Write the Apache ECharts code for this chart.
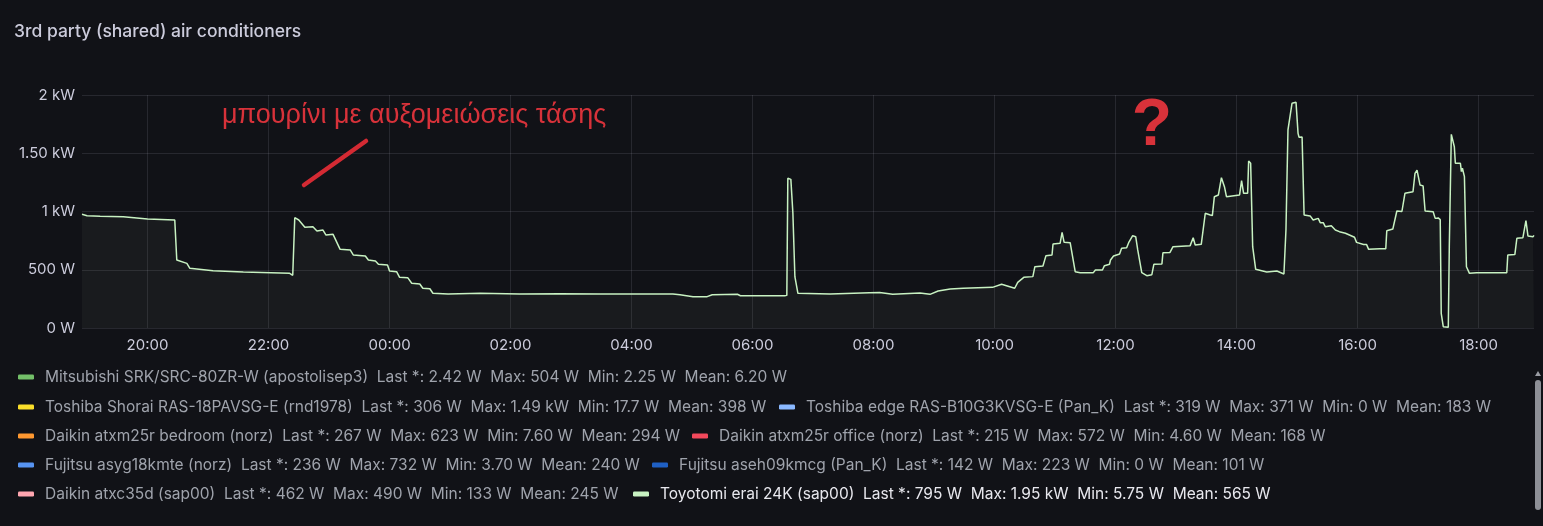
<!DOCTYPE html>
<html>
<head>
<meta charset="utf-8">
<script src="https://cdn.jsdelivr.net/npm/echarts@6/dist/echarts.min.js"></script>
<style>
  html, body { margin:0; padding:0; background:#111217; }
  #chart { width:1543px; height:526px; }
</style>
</head>
<body>
<div id="chart"></div>
<script>
// ---- data ----
const chartTitle = '3rd party (shared) air conditioners';
const timeLabels = ['18:55','19:00','19:13','19:36','20:00','20:27','20:29','20:39','20:42','21:05','21:35','22:21','22:24','22:26','22:30','22:36','22:44','22:48','22:54','22:57','23:04','23:11','23:21','23:24','23:36','23:39','23:46','23:49','23:58','00:00','00:07','00:10','00:18','00:22','00:30','00:33','00:40','00:43','00:58','01:30','02:09','02:49','03:29','04:41','04:48','05:01','05:15','05:20','05:45','05:48','06:32','06:34','06:35','06:38','06:40','06:42','06:45','07:17','07:56','08:06','08:19','08:46','08:56','09:04','09:16','09:29','09:58','10:07','10:20','10:23','10:29','10:38','10:40','10:48','10:51','10:57','10:58','11:05','11:07','11:09','11:15','11:20','11:25','11:38','11:40','11:47','11:49','11:54','11:55','11:58','12:04','12:06','12:11','12:13','12:17','12:20','12:22','12:26','12:31','12:36','12:38','12:46','12:47','12:54','12:57','13:14','13:17','13:19','13:25','13:29','13:34','13:36','13:38','13:42','13:45','13:48','13:50','14:03','14:05','14:07','14:11','14:12','14:14','14:16','14:19','14:30','14:40','14:47','14:49','14:51','14:55','14:59','15:01','15:02','15:05','15:07','15:13','15:16','15:21','15:23','15:26','15:28','15:34','15:38','15:42','15:48','15:57','15:59','16:06','16:09','16:11','16:22','16:28','16:29','16:35','16:39','16:44','16:47','16:55','16:57','16:59','17:02','17:05','17:07','17:15','17:17','17:20','17:22','17:23','17:25','17:30','17:31','17:33','17:36','17:37','17:42','17:43','17:44','17:46','17:48','17:51','17:58','18:28','18:29','18:36','18:38','18:44','18:47','18:49','18:54','18:55'];
const toyotomiWatts = [976,964,960,955,936,927,584,555,512,492,481,469,452,947,927,864,870,833,841,798,804,675,670,627,618,584,575,547,541,489,483,435,432,384,378,341,337,298,292,298,292,295,292,292,285,269,269,285,290,277,277,280,1285,1276,987,440,298,292,303,305,289,300,289,318,335,341,349,375,341,392,435,441,526,532,621,627,721,727,821,735,732,483,475,475,498,498,535,547,584,618,635,684,689,732,792,784,670,475,449,458,547,550,646,649,698,707,775,712,718,985,970,965,1127,1142,1290,1213,1127,1142,1265,1156,1156,1433,1414,698,504,481,489,464,841,1700,1929,1937,1671,1637,1640,970,962,927,941,904,904,870,878,841,827,813,779,735,716,716,675,681,681,835,850,1004,1000,1156,1170,1328,1356,1227,1220,1004,998,941,945,930,126,11,6,698,1662,1556,1414,1414,1342,1371,1299,526,469,475,475,627,630,770,775,921,790,784,795];
const rangeStart = '18:55';
const rangeEnd = '18:55';
const xTickLabels = ['20:00','22:00','00:00','02:00','04:00','06:00','08:00','10:00','12:00','14:00','16:00','18:00'];
const yTickLabels = ['0 W','500 W','1 kW','1.50 kW','2 kW'];
const deviceNames = [
  'Mitsubishi SRK/SRC-80ZR-W (apostolisep3)',
  'Toshiba Shorai RAS-18PAVSG-E (rnd1978)',
  'Toshiba edge RAS-B10G3KVSG-E (Pan_K)',
  'Daikin atxm25r bedroom (norz)',
  'Daikin atxm25r office (norz)',
  'Fujitsu asyg18kmte (norz)',
  'Fujitsu aseh09kmcg (Pan_K)',
  'Daikin atxc35d (sap00)',
  'Toyotomi erai 24K (sap00)'
];
const deviceColors = ['#73BF69','#FADE2A','#8AB8FF','#FF9830','#F2495C','#5794F2','#1F60C4','#FFA6B0','#C8F2C2'];
const deviceStats = [
  'Last *: 2.42 W  Max: 504 W  Min: 2.25 W  Mean: 6.20 W',
  'Last *: 306 W  Max: 1.49 kW  Min: 17.7 W  Mean: 398 W',
  'Last *: 319 W  Max: 371 W  Min: 0 W  Mean: 183 W',
  'Last *: 267 W  Max: 623 W  Min: 7.60 W  Mean: 294 W',
  'Last *: 215 W  Max: 572 W  Min: 4.60 W  Mean: 168 W',
  'Last *: 236 W  Max: 732 W  Min: 3.70 W  Mean: 240 W',
  'Last *: 142 W  Max: 223 W  Min: 0 W  Mean: 101 W',
  'Last *: 462 W  Max: 490 W  Min: 133 W  Mean: 245 W',
  'Last *: 795 W  Max: 1.95 kW  Min: 5.75 W  Mean: 565 W'
];
const shownDevice = 'Toyotomi erai 24K (sap00)';
const annotationText = 'μπουρίνι με αυξομειώσεις τάσης';
const annotationMark = '?';

// ---- build minute offsets (minutes since day-1 midnight) ----
function toMin(label, day) {
  const [h, m] = label.split(':').map(Number);
  return day * 1440 + h * 60 + m;
}
function withDays(labels) {
  const out = [];
  let day = 0, prev = null;
  labels.forEach(lab => {
    if (prev !== null && lab < prev) day += 1;
    prev = lab;
    out.push(toMin(lab, day));
  });
  return out;
}
const tList = withDays(timeLabels);
const points = tList.map((t, i) => [t, toyotomiWatts[i]]);
const xTicks = withDays(xTickLabels);
const xMin = toMin(rangeStart, 0);
const xMax = toMin(rangeEnd, 1);

// ---- layout (positions only) ----
const legendSlots = [
  [18, 368], [18, 398], [779, 398], [18, 427], [692, 427], [18, 456], [652, 456], [18, 485], [633, 485]
];
const FONT = 'Inter, "Noto Sans", sans-serif';

const legends = deviceNames.map((name, i) => ({
  left: legendSlots[i][0],
  top: legendSlots[i][1],
  padding: 0,
  icon: 'roundRect',
  itemWidth: 16,
  itemHeight: 5,
  selectedMode: false,
  data: [{ name: name, textStyle: { color: name === shownDevice ? '#e8e8ee' : '#9fa3ac' } }],
  formatter: n => n + '  ' + deviceStats[deviceNames.indexOf(n)],
  textStyle: { fontFamily: FONT, fontSize: 15.5, lineHeight: 18, padding: [0, 0, 0, 6] }
}));

const series = deviceNames.map((name, i) => {
  if (name === shownDevice) {
    return {
      name: name, type: 'line', color: deviceColors[i],
      data: points, showSymbol: false, symbol: 'none',
      lineStyle: { color: deviceColors[i], width: 1.5 },
      areaStyle: { color: 'rgba(200,242,194,0.06)' },
      animation: false, z: 5
    };
  }
  return { name: name, type: 'line', color: deviceColors[i], data: [], showSymbol: false, animation: false };
});

const chart = echarts.init(document.getElementById('chart'), null, { renderer: 'canvas' });
chart.setOption({
  backgroundColor: '#111217',
  animation: false,
  title: {
    text: chartTitle, left: 14, top: 23, padding: 0,
    textStyle: { color: '#ccccdc', fontSize: 17.5, fontWeight: 500, fontFamily: FONT }
  },
  grid: { left: 82, right: 9, top: 95, bottom: 198, containLabel: false },
  legend: legends,
  xAxis: {
    type: 'value', min: xMin, max: xMax,
    axisLine: { show: false },
    axisTick: { show: false, customValues: xTicks },
    splitLine: { show: true, lineStyle: { color: 'rgba(204,204,220,0.12)', width: 1 } },
    axisLabel: {
      customValues: xTicks,
      formatter: v => { const k = xTicks.indexOf(v); return k >= 0 ? xTickLabels[k] : ''; },
      color: '#ccccdc', fontSize: 15, fontFamily: FONT, margin: 10, hideOverlap: false
    }
  },
  yAxis: {
    type: 'value', min: 0, max: 2000, interval: 500,
    axisLine: { show: false }, axisTick: { show: false },
    splitLine: { show: true, lineStyle: { color: 'rgba(204,204,220,0.12)', width: 1 } },
    axisLabel: {
      formatter: v => yTickLabels[Math.round(v / 500)], color: '#ccccdc', fontSize: 15, fontFamily: FONT, margin: 7
    }
  },
  series: series,
  graphic: [
    { type: 'text', x: 222, y: 116, z: 20,
      style: { text: annotationText, fill: '#d8323a', fontSize: 27, verticalAlign: 'middle', fontFamily: '"Liberation Sans", Arial, sans-serif' } },
    { type: 'line', z: 20,
      shape: { x1: 304, y1: 185, x2: 366, y2: 141 },
      style: { stroke: '#d42a33', lineWidth: 4.5, lineCap: 'round' } },
    { type: 'text', x: 1152, y: 127, z: 20,
      style: { text: annotationMark, fill: '#d8323a', fontSize: 66, fontWeight: 'bold', align: 'center', verticalAlign: 'middle', fontFamily: '"Liberation Sans", Arial, sans-serif' } },
    { type: 'polygon', z: 20, shape: { points: [[1535, 376], [1541, 376], [1538, 371]] }, style: { fill: '#9a9ca3' } },
    { type: 'rect', z: 20, shape: { x: 1535, y: 380, width: 6, height: 130, r: 3 }, style: { fill: '#8d8f96' } }
  ]
});
</script>
</body>
</html>
